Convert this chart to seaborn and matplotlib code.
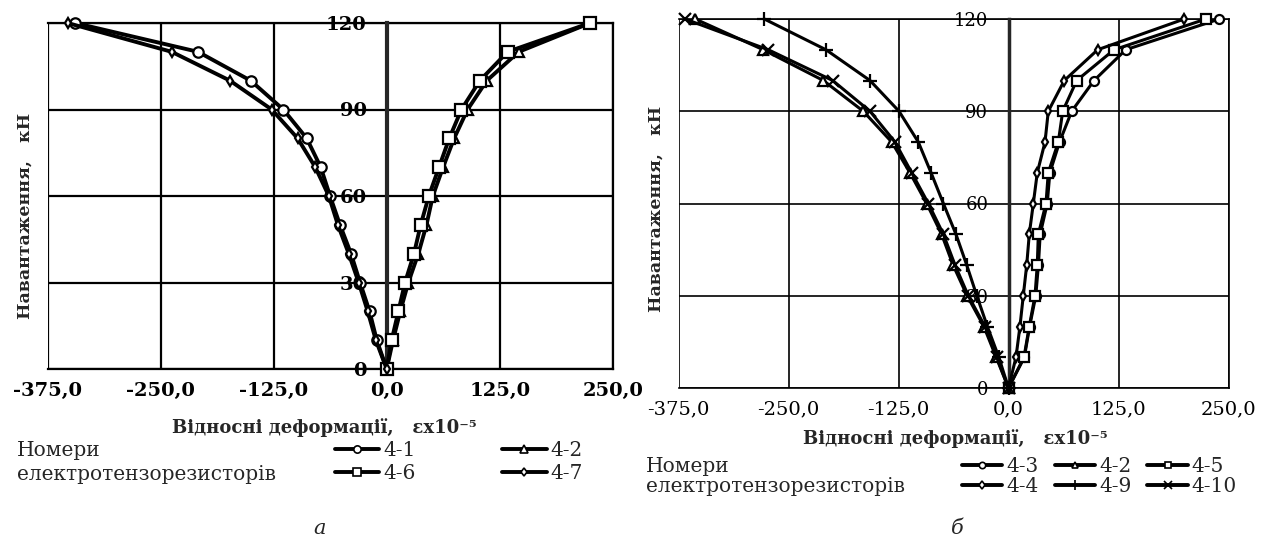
import numpy as np
import pandas as pd
import matplotlib
matplotlib.use("Agg")
import matplotlib.pyplot as plt
import seaborn as sns
from matplotlib.lines import Line2D
from matplotlib.ticker import MultipleLocator, FixedLocator, FixedFormatter

# навантаження, кН (однакові для всіх датчиків)
loads = [0, 10, 20, 30, 40, 50, 60, 70, 80, 90, 100, 110, 120]

# панель а - відносні деформації, ex10^-5
a_41 = [0, -11, -19, -29.5, -39.5, -51.7, -62.7, -73, -88.5, -114.4, -150.4, -208.7, -344.8]
a_42 = [0, 7, 15, 23.9, 35, 44, 51, 62.4, 74.6, 89.5, 110.7, 146, 225]
a_46 = [0, 5.5, 12.9, 20.3, 30.2, 37.6, 46.6, 57.9, 69.2, 82.7, 103, 133.7, 225]
a_47 = [0, -12, -21, -31, -42, -54, -64, -79, -98.5, -127.2, -173.3, -237.8, -352.9]

# панель б
b_43 = [0, 18, 24, 31, 34, 36, 44, 47, 58, 71.8, 97.2, 133.2, 239.6]
b_42 = [0, -14, -28, -47, -63, -76, -93, -112, -132.7, -165, -210.4, -278.6, -356]
b_45 = [0, 17.6, 23.6, 30.1, 32.7, 33.9, 42.6, 45.2, 56.6, 61.6, 77.5, 119.9, 224.4]
b_44 = [0, 8.5, 13, 16.8, 20.7, 23.6, 28.2, 32.7, 41.5, 45.2, 63.4, 101.3, 199.8]
b_49 = [0, -11, -24, -36, -47.5, -59.7, -74, -88, -102.5, -124.4, -157.4, -207.4, -277.5]
b_410 = [0, -13.4, -26.7, -45.7, -60.8, -74, -91.1, -110, -129, -157.4, -199.8, -273, -367.6]

x_ticks = [-375, -250, -125, 0, 125, 250]
x_tick_labels = ["-375,0", "-250,0", "-125,0", "0,0", "125,0", "250,0"]
y_ticks = [0, 30, 60, 90, 120]
y_tick_labels = ["0", "30", "60", "90", "120"]

sns.set_style("white")
plt.rcParams["font.family"] = ["DejaVu Serif"]


def long_df(series):
    frames = []
    for name, vals in series.items():
        frames.append(pd.DataFrame({"strain": vals, "load": loads, "sensor": name}))
    return pd.concat(frames, ignore_index=True)


df_a = long_df({"4-1": a_41, "4-2": a_42, "4-6": a_46, "4-7": a_47})
df_b = long_df({"4-3": b_43, "4-2": b_42, "4-5": b_45, "4-4": b_44, "4-9": b_49, "4-10": b_410})

# маркер, розмір
style_a = {"4-1": ("o", 7.5), "4-2": ("^", 7.5), "4-6": ("s", 8), "4-7": ("d", 5.5)}
style_b = {"4-3": ("o", 6.5), "4-2": ("^", 7), "4-5": ("s", 7), "4-4": ("d", 5),
           "4-9": ("+", 10), "4-10": ("x", 9)}

W, H = 1271, 543
fig = plt.figure(figsize=(W / 100, H / 100), dpi=100)
ax_a = fig.add_axes([47.7 / W, (H - 369) / H, 565 / W, 346 / H])
ax_b = fig.add_axes([678.5 / W, (H - 388) / H, 550 / W, 369 / H])


def draw(ax, df, styles, lw, grid_lw, spine_lw, tick_fs, ytick_fs, bold):
    for name, (mk, ms) in styles.items():
        sub = df[df["sensor"] == name]
        sns.lineplot(data=sub, x="strain", y="load", ax=ax, sort=False, estimator=None,
                     color="black", lw=lw, marker=mk, markersize=ms, mfc="white",
                     mec="black", mew=1.6, clip_on=False, zorder=5)
    ax.set_xlim(-375, 250)
    ax.set_ylim(0, 120)
    ax.xaxis.set_major_locator(FixedLocator(x_ticks))
    ax.xaxis.set_major_formatter(FixedFormatter(x_tick_labels))
    ax.yaxis.set_major_locator(FixedLocator(y_ticks))
    ax.yaxis.set_major_formatter(FixedFormatter(y_tick_labels))
    ax.yaxis.set_minor_locator(MultipleLocator(5))
    ax.grid(True, which="major", color="black", lw=grid_lw)
    for s in ["top", "right", "bottom"]:
        ax.spines[s].set_color("black")
        ax.spines[s].set_linewidth(grid_lw)
    ax.spines["left"].set_position(("data", 0))
    ax.spines["left"].set_linewidth(spine_lw)
    ax.spines["left"].set_zorder(4)
    ax.tick_params(axis="y", which="both", direction="inout", length=9, width=spine_lw,
                   pad=10, labelsize=ytick_fs, colors="black")
    ax.tick_params(axis="x", which="major", direction="out", length=5, width=grid_lw,
                   pad=4, labelsize=tick_fs, colors="black")
    wt = "bold" if bold else "normal"
    for t in ax.get_xticklabels() + ax.get_yticklabels():
        t.set_fontweight(wt)
    ax.set_xlabel("")
    ax.set_ylabel("")
    if ax.get_legend() is not None:
        ax.get_legend().remove()


draw(ax_a, df_a, style_a, 2.8, 1.6, 3.0, 14, 14, True)
draw(ax_b, df_b, style_b, 2.2, 1.2, 2.5, 14, 13, False)

xl = "Відносні деформації,   εx10⁻⁵"
yl = "Навантаження,   кН"
fig.text(324 / W, 1 - 428 / H, xl, ha="center", va="center", fontsize=13, fontweight="bold")
fig.text(955 / W, 1 - 439 / H, xl, ha="center", va="center", fontsize=13, fontweight="bold")
fig.text(25 / W, 1 - 216 / H, yl, ha="center", va="center", rotation=90, fontsize=12.5, fontweight="bold")
fig.text(656 / W, 1 - 209 / H, yl, ha="center", va="center", rotation=90, fontsize=12.5, fontweight="bold")

for x0, y1, y2 in [(17, 451, 475), (646, 466, 487)]:
    fig.text(x0 / W, 1 - y1 / H, "Номери", ha="left", va="center", fontsize=14.5)
    fig.text(x0 / W, 1 - y2 / H, "електротензорезисторів", ha="left", va="center", fontsize=14.5)


def proxies(styles, order):
    out = []
    for k in order:
        mk, ms = styles[k]
        out.append(Line2D([], [], color="black", lw=2.8, marker=mk, markersize=max(ms * 0.7, 4.5),
                          mfc="white", mec="black", mew=1.2))
    return out


order_a = ["4-1", "4-6", "4-2", "4-7"]
fig.legend(proxies(style_a, order_a), order_a, ncol=2, loc="upper left",
           bbox_to_anchor=(335 / W, 1 - 441 / H), frameon=False, fontsize=14.5,
           handlelength=2.2, handletextpad=0.2, columnspacing=4.3, labelspacing=0.2,
           borderpad=0, borderaxespad=0)
order_b = ["4-3", "4-4", "4-2", "4-9", "4-5", "4-10"]
fig.legend(proxies(style_b, order_b), order_b, ncol=3, loc="upper left",
           bbox_to_anchor=(962 / W, 1 - 457 / H), frameon=False, fontsize=14.5,
           handlelength=2.0, handletextpad=0.2, columnspacing=0.8, labelspacing=0.05,
           borderpad=0, borderaxespad=0)

fig.text(320 / W, 1 - 528 / H, "а", ha="center", va="center", fontsize=15, style="italic")
fig.text(957 / W, 1 - 528 / H, "б", ha="center", va="center", fontsize=15, style="italic")

fig.savefig("out.png", dpi=100)
